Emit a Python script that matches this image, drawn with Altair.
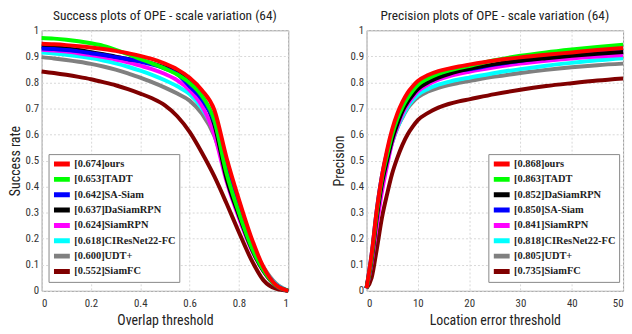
import altair as alt
import pandas as pd

# ---------------- data ----------------
trackers_s = ["ours", "TADT", "SA-Siam", "DaSiamRPN", "SiamRPN", "CIResNet22-FC", "UDT+", "SiamFC"]
scores_s = ["0.674", "0.653", "0.642", "0.637", "0.624", "0.618", "0.600", "0.552"]
trackers_p = ["ours", "TADT", "DaSiamRPN", "SA-Siam", "SiamRPN", "CIResNet22-FC", "UDT+", "SiamFC"]
scores_p = ["0.868", "0.863", "0.852", "0.850", "0.841", "0.818", "0.805", "0.735"]

tracker_colors = {
    "ours": "#ff0000", "TADT": "#00ff00", "SA-Siam": "#0000ff", "DaSiamRPN": "#000000",
    "SiamRPN": "#ff00ff", "CIResNet22-FC": "#00ffff", "UDT+": "#808080", "SiamFC": "#800000",
}

overlap = [0.0, 0.05, 0.1, 0.15, 0.2, 0.25, 0.3, 0.35, 0.4, 0.45, 0.5,
           0.55, 0.6, 0.65, 0.7, 0.75, 0.8, 0.85, 0.9, 0.95, 1.0]
success = {
    "ours":          [0.948, 0.946, 0.943, 0.939, 0.934, 0.928, 0.921, 0.912, 0.902, 0.889, 0.872,
                      0.850, 0.818, 0.770, 0.695, 0.510, 0.350, 0.205, 0.090, 0.022, 0.0],
    "TADT":          [0.970, 0.968, 0.964, 0.958, 0.950, 0.940, 0.925, 0.908, 0.890, 0.872, 0.853,
                      0.830, 0.798, 0.748, 0.655, 0.450, 0.300, 0.170, 0.078, 0.020, 0.0],
    "SA-Siam":       [0.930, 0.928, 0.924, 0.919, 0.912, 0.905, 0.897, 0.889, 0.880, 0.868, 0.853,
                      0.832, 0.785, 0.735, 0.650, 0.470, 0.320, 0.185, 0.085, 0.022, 0.0],
    "DaSiamRPN":     [0.938, 0.935, 0.930, 0.924, 0.916, 0.908, 0.899, 0.890, 0.882, 0.872, 0.858,
                      0.838, 0.800, 0.745, 0.640, 0.430, 0.290, 0.165, 0.075, 0.020, 0.0],
    "SiamRPN":       [0.925, 0.922, 0.918, 0.912, 0.905, 0.897, 0.888, 0.877, 0.864, 0.850, 0.832,
                      0.808, 0.770, 0.710, 0.600, 0.420, 0.280, 0.160, 0.075, 0.020, 0.0],
    "CIResNet22-FC": [0.915, 0.911, 0.906, 0.900, 0.893, 0.884, 0.873, 0.860, 0.845, 0.828, 0.808,
                      0.785, 0.755, 0.700, 0.610, 0.450, 0.310, 0.180, 0.085, 0.025, 0.0],
    "UDT+":          [0.897, 0.892, 0.886, 0.879, 0.871, 0.861, 0.849, 0.835, 0.818, 0.800, 0.780,
                      0.757, 0.730, 0.680, 0.595, 0.450, 0.310, 0.185, 0.090, 0.028, 0.0],
    "SiamFC":        [0.842, 0.836, 0.829, 0.821, 0.812, 0.801, 0.789, 0.774, 0.757, 0.738, 0.712,
                      0.670, 0.610, 0.530, 0.440, 0.335, 0.225, 0.120, 0.040, 0.008, 0.0],
}

location = [0, 1, 2, 3, 4, 5, 6, 7, 8, 9, 10, 12, 14, 16, 18, 20, 25, 30, 35, 40, 45, 50]
precision = {
    "ours":          [0.01, 0.14, 0.31, 0.44, 0.54, 0.62, 0.68, 0.725, 0.760, 0.785, 0.805, 0.828,
                      0.843, 0.853, 0.861, 0.868, 0.884, 0.896, 0.906, 0.915, 0.924, 0.932],
    "TADT":          [0.01, 0.13, 0.30, 0.43, 0.52, 0.60, 0.66, 0.705, 0.740, 0.768, 0.790, 0.815,
                      0.833, 0.845, 0.855, 0.863, 0.885, 0.902, 0.915, 0.926, 0.936, 0.945],
    "DaSiamRPN":     [0.01, 0.12, 0.28, 0.41, 0.50, 0.58, 0.64, 0.690, 0.725, 0.752, 0.774, 0.800,
                      0.818, 0.832, 0.843, 0.852, 0.870, 0.883, 0.893, 0.902, 0.910, 0.917],
    "SA-Siam":       [0.01, 0.14, 0.31, 0.44, 0.53, 0.61, 0.665, 0.710, 0.745, 0.772, 0.792, 0.814,
                      0.829, 0.840, 0.846, 0.850, 0.868, 0.883, 0.895, 0.905, 0.914, 0.922],
    "SiamRPN":       [0.01, 0.11, 0.25, 0.38, 0.48, 0.57, 0.63, 0.680, 0.716, 0.744, 0.766, 0.792,
                      0.810, 0.823, 0.833, 0.841, 0.858, 0.872, 0.883, 0.892, 0.899, 0.905],
    "CIResNet22-FC": [0.01, 0.12, 0.28, 0.40, 0.49, 0.57, 0.625, 0.670, 0.705, 0.732, 0.752, 0.775,
                      0.791, 0.802, 0.811, 0.818, 0.836, 0.851, 0.864, 0.875, 0.885, 0.893],
    "UDT+":          [0.01, 0.13, 0.29, 0.41, 0.50, 0.57, 0.625, 0.665, 0.700, 0.724, 0.743, 0.765,
                      0.779, 0.790, 0.798, 0.805, 0.822, 0.836, 0.848, 0.858, 0.866, 0.872],
    "SiamFC":        [0.01, 0.05, 0.16, 0.28, 0.37, 0.45, 0.51, 0.560, 0.600, 0.630, 0.655, 0.683,
                      0.703, 0.717, 0.727, 0.735, 0.755, 0.772, 0.786, 0.797, 0.807, 0.815],
}

y_ticks = [0, 0.1, 0.2, 0.3, 0.4, 0.5, 0.6, 0.7, 0.8, 0.9, 1.0]
x_ticks_s = [0, 0.2, 0.4, 0.6, 0.8, 1.0]
x_ticks_p = [0, 10, 20, 30, 40, 50]

# ---------------- build tables ----------------
def long_table(xs, series, names, scores):
    rows = []
    labels = [f"[{sc}]{name}" for name, sc in zip(names, scores)]
    # lowest-ranked first so "ours" ends up drawn on top
    for name, sc in reversed(list(zip(names, scores))):
        for x, y in zip(xs, series[name]):
            rows.append({"x": x, "y": y, "label": f"[{sc}]{name}"})
    return pd.DataFrame(rows), labels

df_s, labels_s = long_table(overlap, success, trackers_s, scores_s)
df_p, labels_p = long_table(location, precision, trackers_p, scores_p)
colors_s = [tracker_colors[n] for n in trackers_s]
colors_p = [tracker_colors[n] for n in trackers_p]

SANS = "Roboto Condensed, Liberation Sans Narrow, Roboto, Liberation Sans, sans-serif"
SERIF = "Liberation Serif, Times New Roman, serif"


def axis(values, title, fmt, lpad, tpad):
    return alt.Axis(values=values, format=fmt, title=title, grid=True, gridDash=[2, 2],
                    gridColor="#d8d8d8", domain=False, ticks=False, labelFont=SANS,
                    labelFontSize=11, labelColor="#333", labelPadding=lpad, titleFont=SANS,
                    titleFontSize=14, titleFontWeight="normal", titleColor="#222",
                    titlePadding=tpad)


def legend(lx, ly):
    return alt.Legend(orient="none", legendX=lx, legendY=ly, title=None, symbolType="stroke",
                      symbolStrokeWidth=5, symbolSize=256, clipHeight=14,
                      labelFont=SERIF, labelFontSize=10.5, labelFontWeight="bold",
                      labelColor="#222", labelLimit=300, fillColor="white", strokeColor="#888",
                      padding=3, rowPadding=1.5, symbolOffset=0, labelOffset=2)


def panel(df, labels, colors, xdomain, xticks, xfmt, xtitle, ytitle, title, w, lx, ly):
    return alt.Chart(df, title=alt.TitleParams(title, font=SANS, fontSize=13.5,
                                               fontWeight="normal", color="#222", offset=2)
    ).mark_line(strokeWidth=4, interpolate="monotone").encode(
        x=alt.X("x:Q", scale=alt.Scale(domain=xdomain, nice=False),
                axis=axis(xticks, xtitle, xfmt, 7, 5)),
        y=alt.Y("y:Q", scale=alt.Scale(domain=[0, 1], nice=False),
                axis=axis(y_ticks, ytitle, ".1~f", 3, 3)),
        color=alt.Color("label:N", scale=alt.Scale(domain=labels, range=colors),
                        legend=legend(lx, ly)),
    ).properties(width=w, height=263)


left = panel(df_s, labels_s, colors_s, [0, 1], x_ticks_s, ".1~f", "Overlap threshold",
             "Success rate", "Success plots of OPE - scale variation (64)", 249, 7, 125)
right = panel(df_p, labels_p, colors_p, [0, 50], x_ticks_p, "d", "Location error threshold",
              "Precision", "Precision plots of OPE - scale variation (64)", 259, 123, 125)

chart = alt.hconcat(left, right, spacing=35).resolve_scale(color="independent").configure(
    padding={"left": 7, "top": 7, "right": 0, "bottom": 0},
    background="white",
).configure_view(stroke="#999", strokeWidth=1)

chart.save("out.html", embed_options={"renderer": "svg", "actions": False})
